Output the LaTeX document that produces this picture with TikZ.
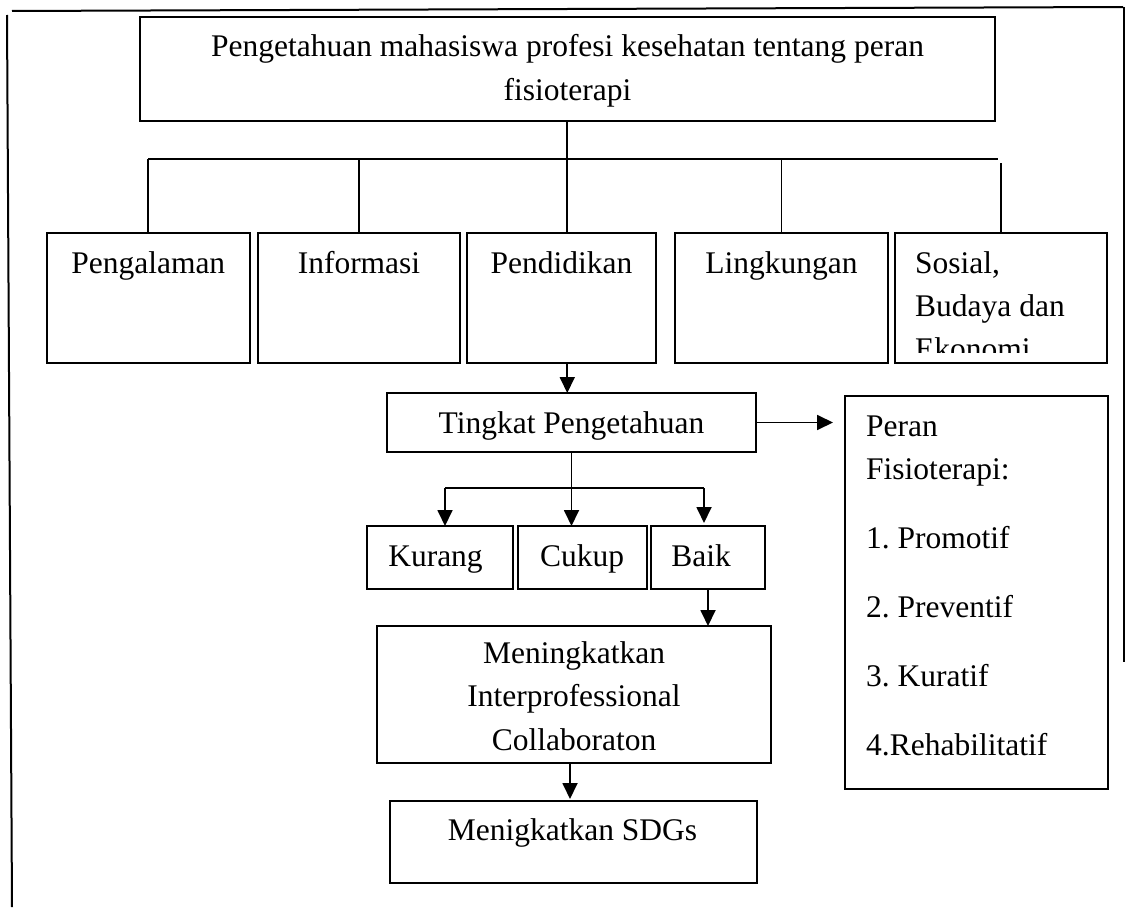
\documentclass[tikz,border=0pt]{standalone}
\usepackage{fontspec}
\setmainfont{Liberation Serif}
\usetikzlibrary{arrows.meta}
\frenchspacing
\begin{document}
\begin{tikzpicture}[x=1pt,y=-1pt,
  box/.style={draw, line width=2pt, inner sep=0pt, outer sep=0pt},
  conn/.style={line width=1.8pt},
  arr/.style={conn, -{Triangle[width=15pt,length=16pt]}},
  txt/.style={inner sep=0pt, font=\fontsize{31.5}{43.3}\selectfont},
  frame/.style={line width=2pt}]
\useasboundingbox (0,0) rectangle (1126,907);
\newcommand{\boxat}[5]{\node[box, anchor=north west, minimum width={(#4-#2)*1pt}, minimum height={(#5-#3)*1pt}] (#1) at (#2,#3) {};}
% outer frame lines
\draw[frame] (12,11) -- (1123,7);
\draw[frame] (7,15) -- (12,907);
\draw[frame] (1124,7) -- (1124,662);
% boxes
\boxat{top}{139.5}{17}{995}{121}
\boxat{peng}{46.5}{233}{250}{363}
\boxat{info}{258}{233}{460}{363}
\boxat{pend}{467}{233}{656}{363}
\boxat{ling}{675}{233}{888}{363}
\boxat{sos}{895}{233}{1107}{363}
\boxat{ting}{387}{393}{756}{452}
\boxat{peran}{845}{396}{1108}{789}
\boxat{kur}{367}{526}{513}{589}
\boxat{cuk}{518}{526}{647}{589}
\boxat{baik}{651}{526}{765}{589}
\boxat{mening}{377}{626}{771}{763}
\boxat{sdg}{390}{801}{757}{883}
% texts (anchor base = baseline of the last line)
\node[txt, align=center, anchor=base] (ttop) at (567.5,100) {Pengetahuan mahasiswa profesi kesehatan tentang peran\\fisioterapi};
\node[txt, anchor=base] (tpeng) at (148.25,273) {Pengalaman};
\node[txt, anchor=base] (tinfo) at (359,273) {Informasi};
\node[txt, anchor=base] (tpend) at (561.5,273) {Pendidikan};
\node[txt, anchor=base] (tling) at (781.5,273) {Lingkungan};
\begin{scope}
\clip (895,233) rectangle (1107,352);
\node[txt, align=left, anchor=base west] (tsos) at (915,359.6) {Sosial,\\Budaya dan\\Ekonomi};
\end{scope}
\node[txt, anchor=base] (tting) at (571.5,433) {Tingkat Pengetahuan};
\node[txt, align=left, anchor=base west, font=\fontsize{31.5}{42.3}\selectfont] (tperan) at (866,755) {Peran\\Fisioterapi:\\[26.7pt]1. Promotif\\[26.7pt]2. Preventif\\[26.7pt]3. Kuratif\\[26.7pt]4.Rehabilitatif};
\node[txt, anchor=base] (tkur) at (435.5,566) {Kurang};
\node[txt, anchor=base] (tcuk) at (582,566) {Cukup};
\node[txt, anchor=base] (tbaik) at (701,566) {Baik};
\node[txt, align=center, anchor=base] (tmening) at (574,750) {Meningkatkan\\Interprofessional\\Collaboraton};
\node[txt, anchor=base] (tsdg) at (572.5,840.7) {Menigkatkan SDGs};
% connectors
\coordinate (hL) at (148,159);
\coordinate (hR) at (998,159);
\draw[conn] (hL) -- (hR);
\draw[conn] (top.south) -- (pend.north -| top.south);
\draw[conn] (hL) -- (peng.north -| hL);
\draw[conn] (info.north |- hL) -- (info.north);
\draw[conn] (ling.north |- hL) -- (ling.north);
\draw[conn] (sos.north |- 0,163) -- (sos.north);
\draw[arr] (pend.south -| top.south) -- (ting.north -| top.south);
\draw[arr, shorten >=12pt] (ting.east) -- (peran.west |- ting.east);
\coordinate (bL) at (445,488);
\coordinate (bR) at (704,488);
\draw[conn] (ting.south) -- (ting.south |- bL);
\draw[conn] (bL) -- (bR);
\draw[arr] (bL) -- (bL |- kur.north);
\draw[arr] (ting.south |- bL) -- (ting.south |- cuk.north);
\draw[arr, shorten >=3pt] (bR) -- (bR |- baik.north);
\draw[arr] (baik.south) -- (baik.south |- mening.north);
\draw[arr, shorten >=2pt] (mening.south -| 570,0) -- (sdg.north -| 570,0);
\end{tikzpicture}
\end{document}
